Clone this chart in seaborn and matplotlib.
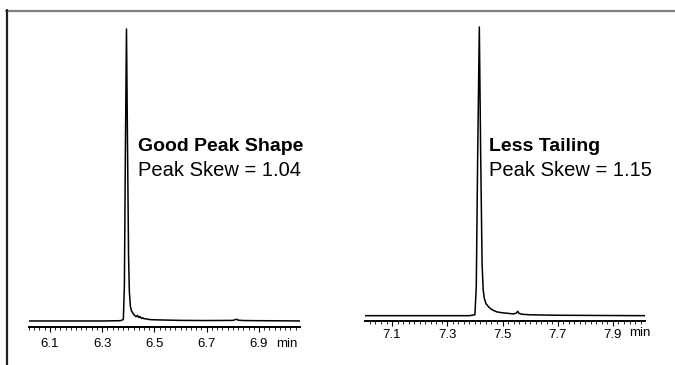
import numpy as np
import pandas as pd
import matplotlib
matplotlib.use("Agg")
import matplotlib.pyplot as plt
from matplotlib.lines import Line2D
from matplotlib.ticker import MultipleLocator, FixedLocator, FixedFormatter
import seaborn as sns

# ---- data ----
left_time = [6.020, 6.100, 6.200, 6.300, 6.370, 6.381, 6.385, 6.389, 6.393, 6.397,
             6.401, 6.404, 6.408, 6.412, 6.418, 6.425, 6.430, 6.435, 6.440, 6.445,
             6.450, 6.455, 6.460, 6.470, 6.480, 6.500, 6.550, 6.600, 6.700, 6.800,
             6.815, 6.820, 6.825, 6.840, 6.900, 7.000, 7.057]
left_signal = [0.0, 0.0, 0.0, 0.0, 0.1, 0.5, 12, 60, 100, 60,
               22, 10, 5.0, 3.5, 2.6, 1.8, 1.5, 1.9, 1.2, 1.5,
               0.9, 1.1, 0.8, 0.7, 0.5, 0.4, 0.3, 0.2, 0.15, 0.2,
               0.6, 0.3, 0.25, 0.15, 0.1, 0.05, 0.0]

right_time = [7.002, 7.100, 7.200, 7.300, 7.380, 7.400, 7.405, 7.410, 7.416, 7.421,
              7.426, 7.430, 7.434, 7.440, 7.450, 7.460, 7.470, 7.480, 7.500, 7.520,
              7.540, 7.550, 7.555, 7.560, 7.570, 7.600, 7.700, 7.800, 7.900, 8.016]
right_signal = [0.0, 0.0, 0.0, 0.0, 0.0, 0.3, 10, 55, 100, 55,
                18, 9, 6.0, 4.2, 3.0, 2.2, 1.7, 1.3, 1.0, 0.8,
                0.6, 0.9, 1.5, 0.8, 0.5, 0.3, 0.15, 0.1, 0.05, 0.0]

left_ticks = [6.1, 6.3, 6.5, 6.7, 6.9]
left_ticklabels = ["6.1", "6.3", "6.5", "6.7", "6.9"]
right_ticks = [7.1, 7.3, 7.5, 7.7, 7.9]
right_ticklabels = ["7.1", "7.3", "7.5", "7.7", "7.9"]

left_title = "Good Peak Shape"
left_sub = "Peak Skew = 1.04"
right_title = "Less Tailing"
right_sub = "Peak Skew = 1.15"
unit = "min"

# ---- style ----
sns.set_style("white")
plt.rcParams["font.family"] = ["Liberation Sans", "DejaVu Sans"]
plt.rcParams["text.color"] = "black"

W, H = 675, 365
fig = plt.figure(figsize=(W / 100, H / 100), dpi=100)
TICK_FS = 9.5


def px_axes(x0, x1, ytop, ybot):
    return fig.add_axes([x0 / W, 1 - ybot / H, (x1 - x0) / W, (ybot - ytop) / H])


def setup(ax, df, xlim, ticks, labels, base_px, axis_px, top_px, pad):
    sns.lineplot(data=df, x="t", y="s", ax=ax, color="black", linewidth=1.1,
                 estimator=None, sort=False)
    ax.set_xlim(*xlim)
    scale = (base_px - top_px) / 100.0
    ax.set_ylim(-(axis_px - base_px) / scale, 100 + 1.0 / scale)
    for s in ["left", "right", "top"]:
        ax.spines[s].set_visible(False)
    ax.spines["bottom"].set_linewidth(1.4)
    ax.spines["bottom"].set_color("black")
    ax.set_yticks([])
    ax.xaxis.set_major_locator(FixedLocator(ticks))
    ax.xaxis.set_major_formatter(FixedFormatter(labels))
    ax.xaxis.set_minor_locator(MultipleLocator(0.02))
    ax.tick_params(axis="x", which="major", direction="out", length=3.5, width=0.8,
                   labelsize=TICK_FS, pad=pad, bottom=True, colors="black")
    ax.tick_params(axis="x", which="minor", direction="out", length=2.2, width=0.7,
                   bottom=True)
    ax.set_xlabel("")
    ax.set_ylabel("")
    ax.patch.set_alpha(0)


dfl = pd.DataFrame({"t": left_time, "s": left_signal})
dfr = pd.DataFrame({"t": right_time, "s": right_signal})

axl = px_axes(29, 300, 28, 327)
setup(axl, dfl, (6.02, 7.057), left_ticks, left_ticklabels, 321, 327, 30, 4.5)
axr = px_axes(365, 645, 26, 321)
setup(axr, dfr, (7.002, 8.016), right_ticks, right_ticklabels, 315.7, 321, 28, 2.0)

# unit labels
fig.text(287 / W, 1 - 344 / H, unit, ha="center", va="center", fontsize=TICK_FS)
fig.text(640 / W, 1 - 333.5 / H, unit, ha="center", va="center", fontsize=TICK_FS)

# annotations
fig.text(138 / W, 1 - 151 / H, left_title, fontsize=14, fontweight="bold", va="baseline")
fig.text(138 / W, 1 - 176 / H, left_sub, fontsize=14.5, va="baseline")
fig.text(489 / W, 1 - 151 / H, right_title, fontsize=14, fontweight="bold", va="baseline")
fig.text(489 / W, 1 - 176 / H, right_sub, fontsize=14.5, va="baseline")

# frame lines (top gray, left dark)
fig.add_artist(Line2D([6 / W, 1.0], [1 - 11 / H, 1 - 11 / H], transform=fig.transFigure,
                      color="#808080", linewidth=1.6))
fig.add_artist(Line2D([6.5 / W, 6.5 / W], [1 - 10 / H, 0.0], transform=fig.transFigure,
                      color="#222222", linewidth=1.6))

fig.savefig("out.png", dpi=100)
